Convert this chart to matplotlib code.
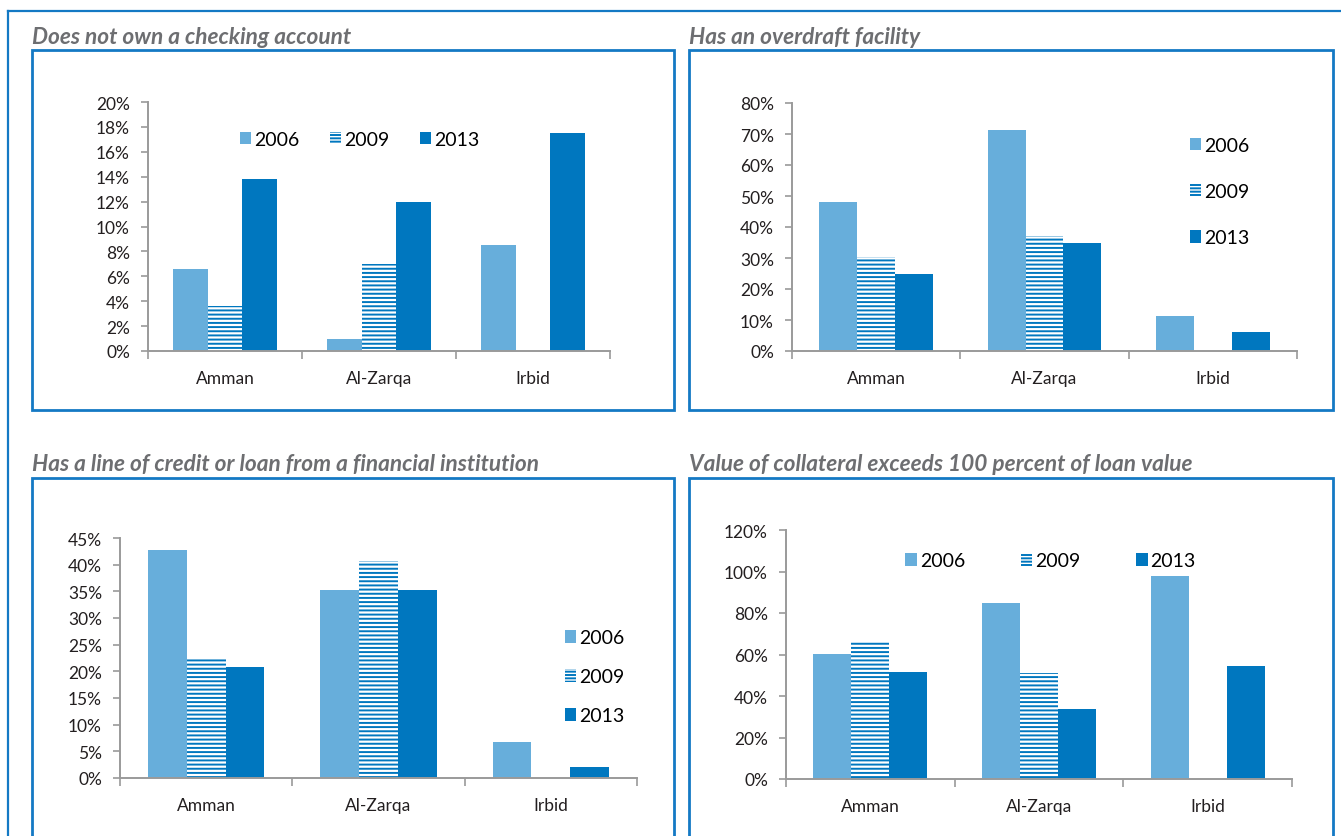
import matplotlib
matplotlib.use("Agg")
import matplotlib.pyplot as plt
from matplotlib.patches import Rectangle, Patch
from matplotlib.lines import Line2D
from matplotlib.ticker import FuncFormatter, FixedLocator

# データ
cities = ["Amman", "Al-Zarqa", "Irbid"]
years = ["2006", "2009", "2013"]

no_checking_2006 = [6.6, 1.0, 8.5]
no_checking_2009 = [3.6, 7.0, 0.0]
no_checking_2013 = [13.8, 12.0, 17.5]

overdraft_2006 = [48.0, 71.2, 11.2]
overdraft_2009 = [30.2, 37.0, 0.0]
overdraft_2013 = [24.8, 35.0, 6.0]

credit_2006 = [42.8, 35.2, 6.8]
credit_2009 = [22.5, 40.6, 0.0]
credit_2013 = [20.8, 35.2, 2.0]

collateral_2006 = [60.2, 84.8, 97.8]
collateral_2009 = [66.5, 51.1, 0.0]
collateral_2013 = [51.6, 33.7, 54.5]

titles = [
    "Does not own a checking account",
    "Has an overdraft facility",
    "Has a line of credit or loan from a financial institution",
    "Value of collateral exceeds 100 percent of loan value",
]

# スタイル
W, H = 1341, 837
C2006 = "#67aedb"
C2013 = "#0077bf"
FRAME = "#1479c4"
AXIS_GRAY = "#9a9a9a"
TITLE_GRAY = "#6d6e71"
TEXT = "#231f20"
plt.rcParams["font.family"] = ["Lato", "DejaVu Sans"]
plt.rcParams["hatch.linewidth"] = 1.4

fig = plt.figure(figsize=(W / 100, H / 100), dpi=100)


def px_axes(l, t, r, b):
    return fig.add_axes([l / W, 1 - b / H, (r - l) / W, (b - t) / H])


def px_rect(l, t, r, b, lw=2.0):
    fig.patches.append(Rectangle((l / W, 1 - b / H), (r - l) / W, (b - t) / H,
                                 transform=fig.transFigure, fill=False,
                                 edgecolor=FRAME, linewidth=lw))


# 外枠
fig.add_artist(Line2D([8 / W, 1.0], [1 - 12 / H, 1 - 12 / H], transform=fig.transFigure,
                      color=FRAME, linewidth=1.6))
fig.add_artist(Line2D([8 / W, 8 / W], [1 - 12 / H, 0], transform=fig.transFigure,
                      color=FRAME, linewidth=1.6))

# パネル枠
px_rect(32, 51, 674, 411)
px_rect(689, 51, 1333, 411)
px_rect(32, 479, 674, 845)
px_rect(689, 479, 1333, 845)

# タイトル
for (x, y), t in zip([(32, 37), (689, 37), (32, 465), (689, 465)], titles):
    fig.text(x / W, 1 - y / H, t, fontsize=16.3, fontweight="bold", fontstyle="italic",
             color=TITLE_GRAY, va="center", ha="left")


def draw_panel(ax, v06, v09, v13, ymax, ystep, legend_kw):
    x = range(len(cities))
    w = 0.225
    ax.bar([i - w for i in x], v06, w, color=C2006, linewidth=0, label="2006")
    ax.bar(list(x), v09, w, facecolor="white", edgecolor=C2013, hatch="----",
           linewidth=0, label="2009")
    ax.bar([i + w for i in x], v13, w, color=C2013, linewidth=0, label="2013")
    ax.set_xlim(-0.5, 2.5)
    ax.set_ylim(0, ymax)
    ax.set_yticks([i * ystep for i in range(int(round(ymax / ystep)) + 1)])
    ax.yaxis.set_major_formatter(FuncFormatter(lambda v, p: f"{v:.0f}%"))
    ax.set_xticks(list(x))
    ax.set_xticklabels(cities)
    ax.xaxis.set_minor_locator(FixedLocator([-0.5, 0.5, 1.5, 2.5]))
    ax.tick_params(axis="x", which="major", length=0, pad=14, labelsize=12.5, labelcolor=TEXT)
    ax.tick_params(axis="x", which="minor", length=6, width=1.2, color=AXIS_GRAY, direction="out")
    ax.tick_params(axis="y", length=5, width=1.2, color=AXIS_GRAY, direction="out", pad=8,
                   labelsize=12.5, labelcolor=TEXT)
    for s in ["top", "right"]:
        ax.spines[s].set_visible(False)
    for s in ["left", "bottom"]:
        ax.spines[s].set_color(AXIS_GRAY)
        ax.spines[s].set_linewidth(1.4)
    ax.patch.set_visible(False)
    handles = [Patch(facecolor=C2006, linewidth=0),
               Patch(facecolor="white", edgecolor=C2013, hatch="-----", linewidth=0),
               Patch(facecolor=C2013, linewidth=0)]
    ax.legend(handles, years, frameon=False, fontsize=14, handlelength=0.6,
              handleheight=0.6, handletextpad=0.15, **legend_kw)


ax1 = px_axes(148, 103, 610, 352)
draw_panel(ax1, no_checking_2006, no_checking_2009, no_checking_2013, 20, 2,
           dict(ncol=3, columnspacing=1.55, loc="center", bbox_to_anchor=(0.458, 0.851)))

ax2 = px_axes(792, 104, 1297, 352)
draw_panel(ax2, overdraft_2006, overdraft_2009, overdraft_2013, 80, 10,
           dict(ncol=1, labelspacing=1.5, loc="center", bbox_to_anchor=(0.847, 0.643)))

ax3 = px_axes(120, 539, 637, 779)
draw_panel(ax3, credit_2006, credit_2009, credit_2013, 45, 5,
           dict(ncol=1, labelspacing=1.13, loc="center", bbox_to_anchor=(0.918, 0.422)))

ax4 = px_axes(786, 531, 1292, 780)
draw_panel(ax4, collateral_2006, collateral_2009, collateral_2013, 120, 20,
           dict(ncol=3, columnspacing=2.85, loc="center", bbox_to_anchor=(0.523, 0.876)))

fig.savefig("out.png", dpi=100)
